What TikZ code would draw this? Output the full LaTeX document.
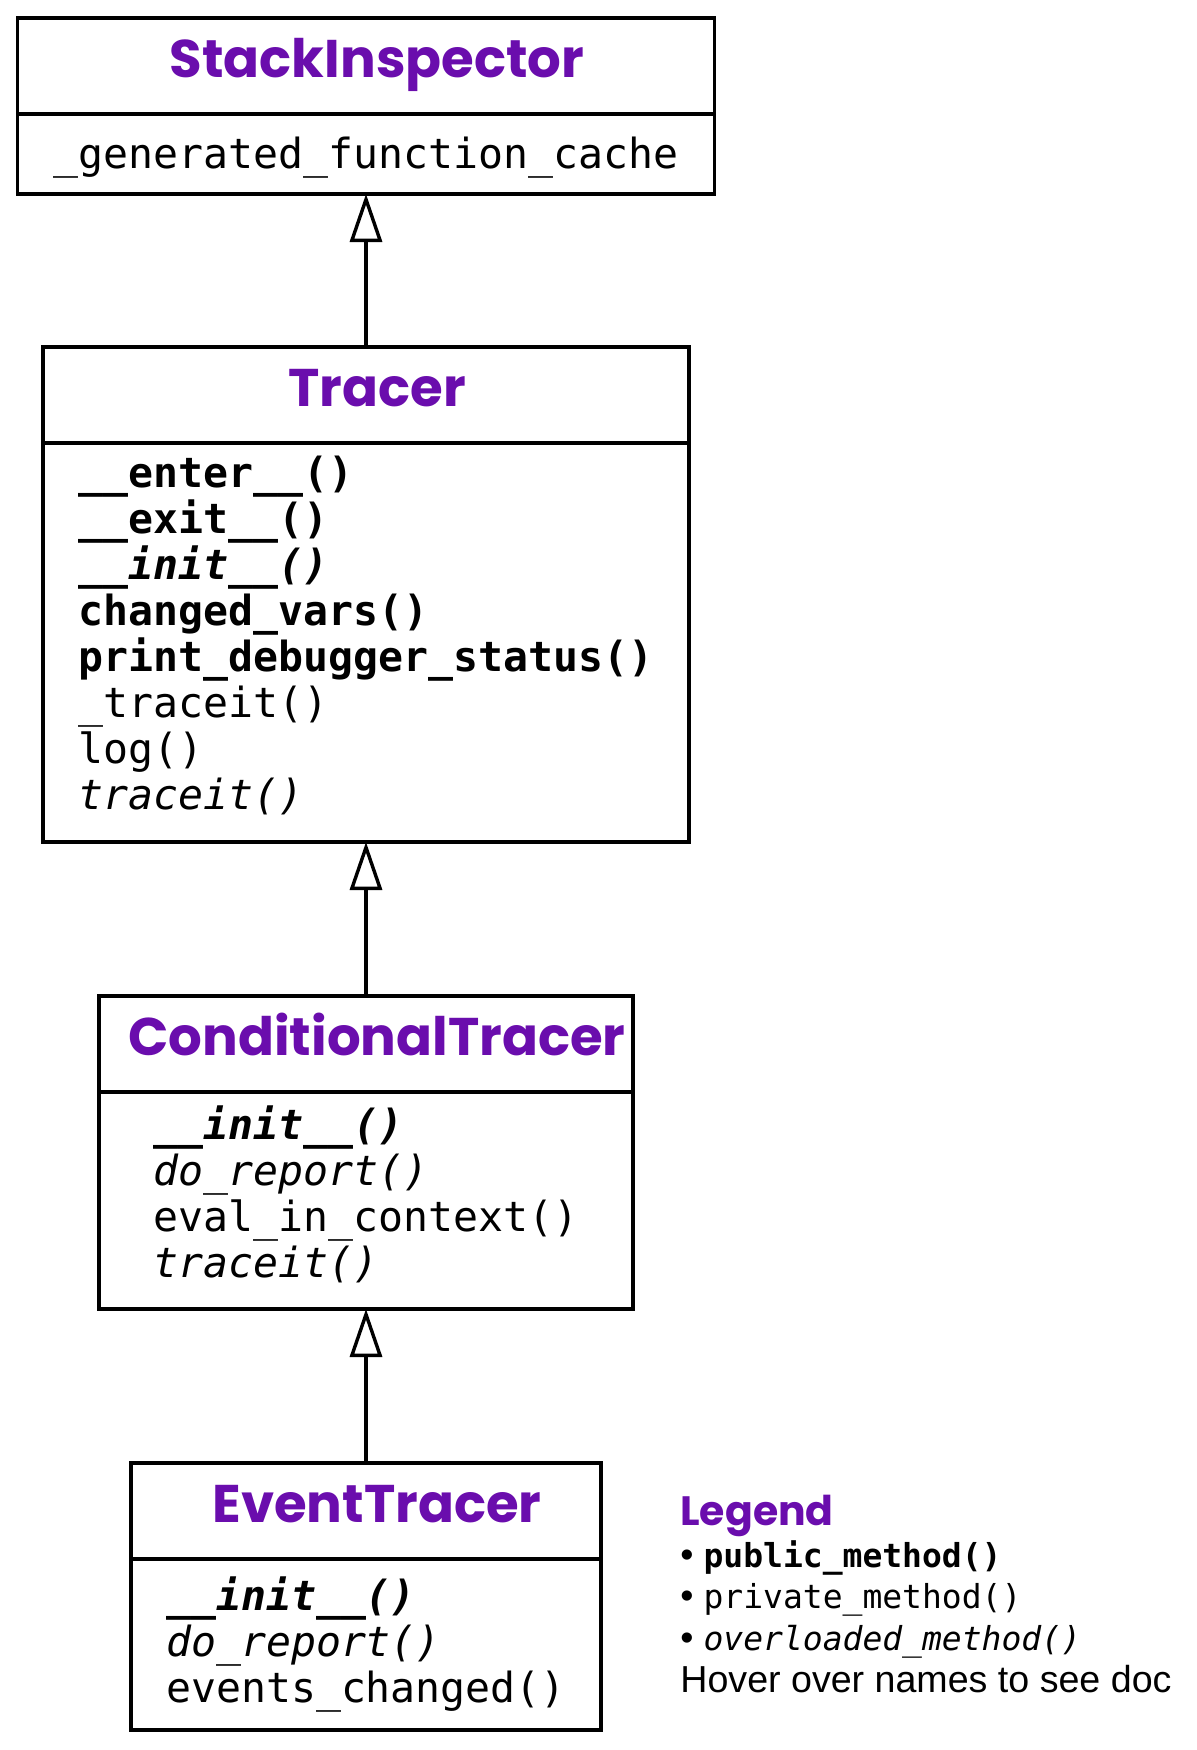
\documentclass[tikz,border=0pt]{standalone}
\usepackage{fontspec}
\setmainfont{Liberation Sans}
\setmonofont{DejaVu Sans Mono}
\newfontfamily\titulofont{Poppins}
\usetikzlibrary{arrows.meta,positioning}
\definecolor{morado}{HTML}{6A0DAD}

\begin{document}
\begin{tikzpicture}[
        x=0.5pt, y=-0.5pt,
        cabecera/.style={draw, line width=1.7pt, outer sep=0pt, inner sep=0pt, minimum height=48pt, text height=20pt, text depth=8.2pt, text=morado, font=\titulofont\bfseries\fontsize{26.5}{30}\selectfont, execute at begin node={\hspace*{11pt}}},
        miembros/.style={draw, line width=1.7pt, outer sep=0pt, inner sep=0pt, align=left, font=\ttfamily\fontsize{20.75}{23}\selectfont},
        herencia/.style={-{Triangle[open, length=24pt, width=16pt]}, line width=1.7pt}
    ]
        \useasboundingbox (0,0) rectangle (1196,1750);

        \node[cabecera, minimum width=348.5pt] (stack-head) at (366,66) {StackInspector};
        \node[miembros, minimum width=348.5pt, minimum height=40pt, below=0pt of stack-head] (stack-body) {\rule{0pt}{19.5pt}\_generated\_function\_cache};

        \node[cabecera, minimum width=323pt] (tracer-head) at (366,395) {Tracer};
        \node[miembros, minimum width=323pt, minimum height=199.5pt, below=0pt of tracer-head] (tracer-body) {%
            \textbf{\_\_enter\_\_()}\\
            \textbf{\_\_exit\_\_()}\\
            \textbf{\textit{\_\_init\_\_()}}\\
            \textbf{changed\_vars()}\\
            \textbf{print\_debugger\_status()}\\
            \_traceit()\\
            log()\\
            \textit{traceit()}\rule[-9.5pt]{0pt}{0pt}};

        \node[cabecera, minimum width=267pt] (cond-head) at (366,1044) {ConditionalTracer};
        \node[miembros, minimum width=267pt, minimum height=108.5pt, below=0pt of cond-head] (cond-body) {%
            \textbf{\textit{\_\_init\_\_()}}\\
            \textit{do\_report()}\\
            eval\_in\_context()\\
            \textit{traceit()}\\[-14pt]\mbox{}};

        \node[cabecera, minimum width=235pt] (event-head) at (366,1511) {EventTracer};
        \node[miembros, minimum width=235pt, minimum height=85.5pt, below=0pt of event-head] (event-body) {%
            \textbf{\textit{\_\_init\_\_()}}\\
            \textit{do\_report()}\\
            events\_changed()};

        \node[anchor=north west, align=left, inner sep=0pt, font=\fontsize{18.8}{20.8}\selectfont] (leyenda) at (680,1495) {%
            {\titulofont\bfseries\fontsize{20.5}{20.8}\selectfont\color{morado}Legend}\\
            •\hspace{5pt}{\ttfamily\bfseries\fontsize{16.5}{20.8}\selectfont public\_method()}\\
            •\hspace{5pt}{\ttfamily\fontsize{16.5}{20.8}\selectfont private\_method()}\\
            •\hspace{5pt}{\ttfamily\itshape\fontsize{16.5}{20.8}\selectfont overloaded\_method()}\\
            Hover over names to see doc};

        \draw[herencia] (tracer-head.north) -- (stack-body.south);
        \draw[herencia] (cond-head.north) -- (tracer-body.south);
        \draw[herencia] (event-head.north) -- (cond-body.south);
    \end{tikzpicture}
\end{document}
